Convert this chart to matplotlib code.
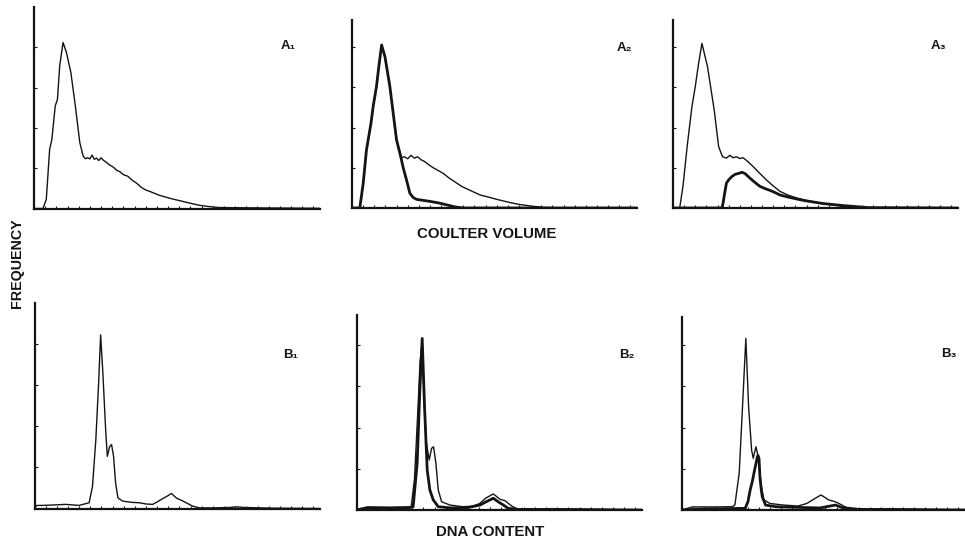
import matplotlib

matplotlib.use("Agg")

import matplotlib.pyplot as plt

# =====================
# DATA (channel, frequency)
# =====================

a1_x = [0, 8, 11, 14, 16, 19, 21, 23, 26, 29, 33, 37, 41, 44, 46, 48, 50, 52, 54, 56,
        58, 60, 62, 65, 68, 71, 74, 77, 80, 84, 88, 92, 96, 100, 104, 108, 112, 117, 122, 128,
        134, 140, 148, 156, 165, 180, 200, 230, 256]
a1_y = [0, 0, 45, 294, 343, 509, 542, 708, 824, 775, 675, 509, 327, 260, 247, 252, 246, 265, 244, 250,
        238, 252, 240, 228, 215, 205, 190, 182, 168, 160, 140, 125, 105, 92, 84, 75, 66, 58, 50, 42,
        34, 26, 16, 10, 5, 4, 3, 2, 1]

a2_thin_x = [0, 7, 10, 13, 17, 19, 22, 24, 26.6, 29.6, 34, 40, 44.5, 47, 50, 53, 56, 59, 62, 65,
             69, 73, 77, 82, 87, 93, 99, 106, 115, 122, 130, 136, 142, 150, 160, 172, 190, 256]
a2_thin_y = [0, 0, 120, 289, 420, 505, 605, 700, 811, 753, 605, 339, 250, 255, 245, 262, 248, 255, 240, 232,
             215, 200, 188, 172, 150, 128, 106, 88, 65, 55, 43, 35, 27, 18, 10, 3, 0, 0]
a2_thick_x = [0, 7, 10, 13, 17, 19, 22, 24, 26.6, 29.6, 34, 40, 44, 46, 49, 52, 55, 58, 64, 71,
              78, 84, 93, 100, 256]
a2_thick_y = [0, 0, 120, 289, 420, 505, 605, 700, 811, 753, 605, 339, 250, 200, 139, 73, 52, 43, 38, 32,
              25, 17, 5, 0, 0]

a3_thin_x = [0, 6, 9, 12.7, 17, 20, 23, 26, 31, 37, 41, 44.5, 48, 51, 54, 57, 60, 63, 67, 72,
             78, 84, 90, 96, 103, 111, 118, 126, 134, 141, 148, 156, 165, 180, 256]
a3_thin_y = [0, 0, 110, 305, 504, 604, 720, 819, 703, 488, 305, 255, 248, 262, 250, 255, 246, 250, 232, 206,
             172, 139, 110, 83, 65, 50, 40, 30, 22, 17, 12, 8, 4, 0, 0]
a3_thick_x = [0, 44, 45, 46, 48, 50, 53, 56, 59, 62, 65, 69, 73, 78, 82, 87, 92, 96, 103, 111,
              118, 126, 135, 144, 153, 162, 175, 256]
a3_thick_y = [0, 0, 25, 60, 124, 140, 157, 168, 172, 178, 170, 149, 130, 108, 98, 88, 76, 65, 55, 45,
              37, 30, 22, 17, 12, 8, 2, 0]

b1_x = [0, 2, 8, 20, 28, 40, 49, 52, 55, 57.5, 59.3, 61.3, 63.8, 65.3, 67.4, 69.1, 70.9, 72.7, 74.8, 79,
        87, 94, 100, 106, 110, 114, 118, 122.8, 125, 127.5, 131.7, 136, 142, 148, 160, 175, 181, 188, 210, 256]
b1_y = [0, 15, 15, 18, 20, 15, 28, 108, 335, 610, 845, 659, 383, 254, 302, 311, 254, 125, 52, 36,
        30, 28, 22, 20, 32, 45, 57, 73, 62, 50, 40, 28, 11, 3, 3, 5, 8, 5, 2, 0]

b2_thin_x = [0, 10, 30, 49, 52, 55, 57, 58.9, 60.5, 62.5, 65.2, 67.3, 69.1, 71.2, 73.3, 76.3, 83.8, 95, 104, 110.7,
             116, 122.7, 128.7, 133.2, 139.2, 145, 160, 175, 256]
b2_thin_y = [0, 12, 12, 14, 150, 480, 720, 820, 560, 330, 243, 299, 307, 227, 97, 40, 24, 16, 18, 32,
             58, 78, 52, 45, 19, 3, 4, 6, 0]
b2_thick_x = [0, 10, 30, 48, 50.8, 54.4, 56.8, 58.9, 61, 63.4, 65.8, 68.8, 73.3, 85, 100, 110.7, 117, 122.7, 127, 131.7,
              136, 145, 256]
b2_thick_y = [0, 12, 10, 12, 16, 227, 583, 833, 502, 194, 97, 49, 16, 10, 12, 24, 42, 57, 40, 24,
              8, 3, 0]

b3_thin_x = [0, 10, 30, 46, 48.2, 52.1, 55.1, 58.1, 60.6, 63.3, 64.8, 67.2, 69.3, 71.7, 74.4, 79.8, 90, 105, 113.3, 119.3,
             126, 132.9, 138.9, 144.9, 150, 165, 180, 256]
b3_thin_y = [0, 15, 15, 16, 24, 178, 502, 833, 502, 291, 251, 307, 259, 129, 49, 32, 25, 19, 32, 52,
             73, 49, 40, 24, 8, 4, 6, 0]
b3_thick_x = [0, 20, 57.5, 60, 62, 64, 66, 68, 69, 70, 70.8, 72, 72.9, 75.9, 85, 110, 125, 133, 139, 145,
              160, 256]
b3_thick_y = [0, 5, 8, 40, 97, 140, 194, 245, 265, 250, 162, 100, 65, 24, 16, 12, 10, 18, 24, 12,
              3, 0]

panel_labels = ["A\u2081", "A\u2082", "A\u2083", "B\u2081", "B\u2082", "B\u2083"]

# =====================
# FIGURE
# =====================

W, H = 965, 541
fig = plt.figure(figsize=(W / 100, H / 100), dpi=100)
INK = "#141414"
FONT = ["Liberation Sans", "DejaVu Sans"]


def panel(left, base, right, top, ytop):
    ax = fig.add_axes([left / W, 1 - base / H, (right - left) / W, (base - top) / H])
    ax.set_xlim(0, 256)
    ax.set_ylim(0, 1000)
    for s in ["top", "right"]:
        ax.spines[s].set_visible(False)
    for s in ["left", "bottom"]:
        ax.spines[s].set_linewidth(1.6)
        ax.spines[s].set_color(INK)
    ax.spines["left"].set_bounds(0, ytop)
    ax.set_xticks(range(10, 256, 10))
    ax.set_yticks([200, 400, 600, 800])
    ax.tick_params(direction="in", length=2, width=0.8, colors=INK,
                   labelbottom=False, labelleft=False)
    ax.patch.set_alpha(0)
    return ax


axA1 = panel(34, 208.5, 320, 7, 1000)
axA2 = panel(352, 208, 637, 7, 935)
axA3 = panel(673, 208, 958, 7, 935)
axB1 = panel(34.5, 508.5, 320, 303, 1000)
axB2 = panel(356.5, 510, 642, 304, 945)
axB3 = panel(681.5, 510, 965, 304, 937)

thin = 1.0
thick = 2.0

axA1.plot(a1_x, a1_y, color=INK, lw=thin)

axA2.plot(a2_thin_x, a2_thin_y, color=INK, lw=thin)
axA2.plot(a2_thick_x, a2_thick_y, color=INK, lw=thick)

axA3.plot(a3_thin_x, a3_thin_y, color=INK, lw=thin)
axA3.plot(a3_thick_x, a3_thick_y, color=INK, lw=thick)

axB1.plot(b1_x, b1_y, color=INK, lw=thin)

axB2.plot(b2_thin_x, b2_thin_y, color=INK, lw=thin)
axB2.plot(b2_thick_x, b2_thick_y, color=INK, lw=thick)

axB3.plot(b3_thin_x, b3_thin_y, color=INK, lw=thin)
axB3.plot(b3_thick_x, b3_thick_y, color=INK, lw=thick)

# =====================
# TEXT
# =====================

label_pos = [(288, 46), (624, 48), (939, 46), (291, 355), (627, 355), (949, 354)]
for txt, (px, py) in zip(panel_labels, label_pos):
    fig.text(px / W, 1 - py / H, txt, ha="center", va="center",
             fontsize=9.5, fontweight="bold", family=FONT, color=INK)

fig.text(487 / W, 1 - 233.5 / H, "COULTER VOLUME", ha="center", va="center",
         fontsize=10.8, fontweight="bold", family=FONT, color=INK)
fig.text(490 / W, 1 - 532.5 / H, "DNA CONTENT", ha="center", va="center",
         fontsize=10.8, fontweight="bold", family=FONT, color=INK)
fig.text(17 / W, 1 - 263 / H, "FREQUENCY", ha="center", va="center", rotation=90,
         fontsize=10.3, fontweight="bold", family=FONT, color=INK)

plt.savefig("out.png", dpi=100)
plt.close()
